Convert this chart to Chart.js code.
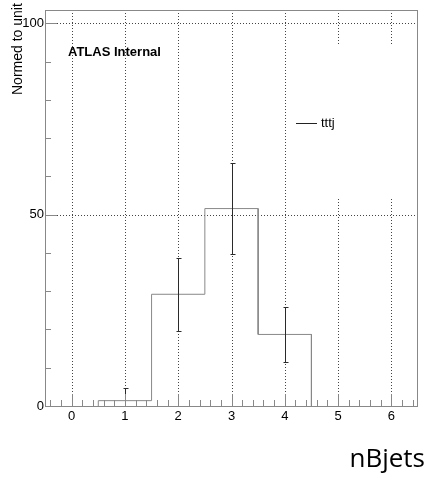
<!DOCTYPE html>
<html>
<head>
<meta charset="utf-8">
<script src="https://cdn.jsdelivr.net/npm/chart.js@4"></script>
<style>
  html, body { margin: 0; padding: 0; background: #fff; }
</style>
</head>
<body>
<canvas id="chart" width="426" height="478"></canvas>
<script>
// histogram of nBjets, normalised to 100
const binEdges = [0.5, 1.5, 2.5, 3.5, 4.5];
const binCenters = [1, 2, 3, 4];
const binValues = [1.4, 29.2, 51.6, 18.7];
const binErrors = [3.3, 9.6, 11.9, 7.1];
const xTickValues = [0, 1, 2, 3, 4, 5, 6];
const yTickValues = [0, 50, 100];

const sans = "'Liberation Sans', Arial, Helvetica, sans-serif";

// step outline built from the bin edges
const outline = [{ x: binEdges[0], y: 0 }];
binValues.forEach((v, i) => {
  outline.push({ x: binEdges[i], y: v });
  outline.push({ x: binEdges[i + 1], y: v });
});
outline.push({ x: binEdges[binEdges.length - 1], y: 0 });

// ROOT style frame, dotted grid, inner ticks, error bars and texts
const rootFrame = {
  id: "rootFrame",
  beforeDatasetsDraw(chart) {
    const { ctx, chartArea: a, scales } = chart;
    ctx.save();
    ctx.strokeStyle = "#444";
    ctx.lineWidth = 1;
    ctx.setLineDash([1, 2]);
    xTickValues.forEach(v => {
      const px = Math.round(scales.x.getPixelForValue(v)) + 0.5;
      ctx.beginPath();
      ctx.moveTo(px, a.top);
      ctx.lineTo(px, a.bottom);
      ctx.stroke();
    });
    [50, 100].forEach(v => {
      const py = Math.round(scales.y.getPixelForValue(v)) + 0.5;
      ctx.beginPath();
      ctx.moveTo(a.left, py);
      ctx.lineTo(a.right, py);
      ctx.stroke();
    });
    ctx.setLineDash([]);
    // legend box hides the grid
    ctx.fillStyle = "#fff";
    ctx.fillRect(300, 45, a.right - 300, 152);
    ctx.restore();
  },
  afterDatasetsDraw(chart) {
    const { ctx, chartArea: a, scales } = chart;
    ctx.save();

    // error bars
    ctx.save();
    ctx.beginPath();
    ctx.rect(a.left, a.top, a.right - a.left, a.bottom - a.top);
    ctx.clip();
    ctx.strokeStyle = "#2a2a2a";
    ctx.lineWidth = 1;
    ctx.beginPath();
    binCenters.forEach((c, i) => {
      const px = Math.round(scales.x.getPixelForValue(c)) + 0.5;
      const lo = Math.round(scales.y.getPixelForValue(binValues[i] - binErrors[i])) + 0.5;
      const hi = Math.round(scales.y.getPixelForValue(binValues[i] + binErrors[i])) + 0.5;
      ctx.moveTo(px, lo);
      ctx.lineTo(px, hi);
      ctx.moveTo(px - 2, lo);
      ctx.lineTo(px + 3, lo);
      ctx.moveTo(px - 2, hi);
      ctx.lineTo(px + 3, hi);
    });
    ctx.stroke();
    ctx.restore();

    ctx.strokeStyle = "#888";
    ctx.lineWidth = 1;
    ctx.strokeRect(a.left + 0.5, a.top + 0.5, a.right - a.left - 1, a.bottom - a.top);

    ctx.beginPath();
    for (let v = 0; v <= 100; v += 10) {
      const py = Math.round(scales.y.getPixelForValue(v)) + 0.5;
      const len = v % 50 === 0 ? 12 : 6;
      ctx.moveTo(a.left, py);
      ctx.lineTo(a.left + len, py);
    }
    for (let k = -2; k <= 32; k++) {
      const v = k / 5;
      const px = Math.round(scales.x.getPixelForValue(v)) + 0.5;
      const len = k % 5 === 0 ? 12 : 6;
      ctx.moveTo(px, a.bottom);
      ctx.lineTo(px, a.bottom - len);
    }
    ctx.stroke();

    ctx.fillStyle = "#000";
    ctx.font = "bold 13px " + sans;
    ctx.textBaseline = "alphabetic";
    ctx.fillText("ATLAS Internal", 68, 56);

    // legend
    ctx.strokeStyle = "#222";
    ctx.beginPath();
    ctx.moveTo(296, 123.5);
    ctx.lineTo(317, 123.5);
    ctx.stroke();
    ctx.font = "13px " + sans;
    ctx.fillText("tttj", 321, 127);

    // axis titles
    ctx.save();
    ctx.translate(22, 95);
    ctx.rotate(-Math.PI / 2);
    ctx.font = "14px " + sans;
    ctx.fillText("Normed to unit", 0, 0);
    ctx.restore();

    ctx.font = "26px 'Open Sans', 'Noto Sans', sans-serif";
    ctx.textAlign = "right";
    ctx.fillText("nBjets", 425, 467);
    ctx.restore();
  }
};

const ctx = document.getElementById("chart");
new Chart(ctx, {
  type: "scatter",
  data: {
    datasets: [
      {
        data: outline,
        showLine: true,
        borderColor: "#888",
        borderWidth: 1,
        pointRadius: 0,
        clip: false
      }
    ]
  },
  options: {
    responsive: false,
    animation: false,
    devicePixelRatio: 1,
    layout: { padding: { top: 10, right: 8, left: 0, bottom: 0 } },
    plugins: { legend: { display: false }, tooltip: { enabled: false } },
    scales: {
      x: {
        type: "linear",
        min: -0.5,
        max: 6.5,
        afterBuildTicks: s => { s.ticks = xTickValues.map(v => ({ value: v })); },
        afterFit: s => { s.height = 72; },
        grid: { display: false, drawTicks: false },
        border: { display: false },
        ticks: {
          autoSkip: false,
          maxRotation: 0,
          padding: 3,
          color: "#000",
          font: { family: sans, size: 13 }
        }
      },
      y: {
        min: 0,
        max: 103.5,
        afterBuildTicks: s => { s.ticks = yTickValues.map(v => ({ value: v })); },
        afterFit: s => { s.width = 45; },
        grid: { display: false, drawTicks: false },
        border: { display: false },
        ticks: {
          padding: 1,
          color: "#000",
          font: { family: sans, size: 13 }
        }
      }
    }
  },
  plugins: [rootFrame]
});
</script>
</body>
</html>
